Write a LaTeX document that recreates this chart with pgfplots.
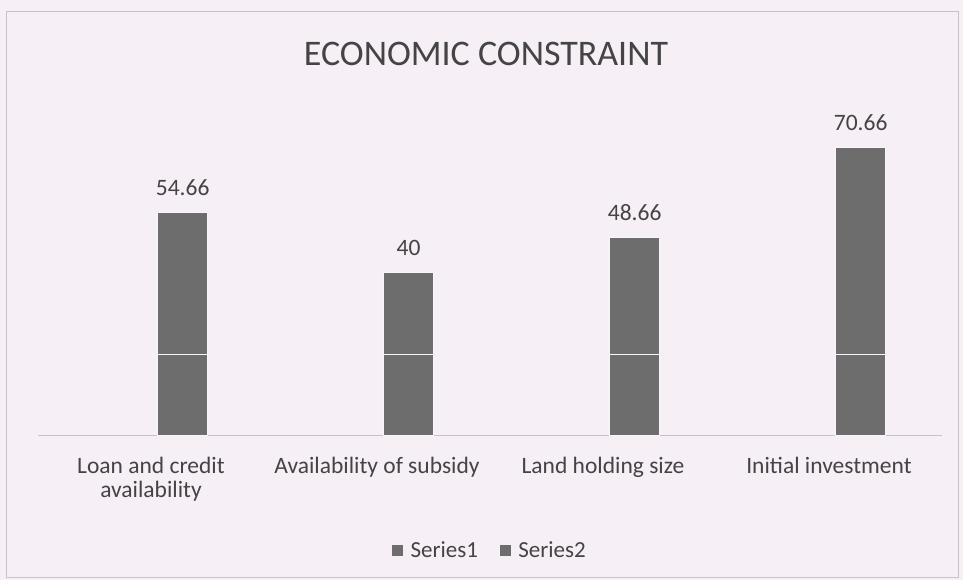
\documentclass[border=0pt]{standalone}
\usepackage{fontspec}
\setmainfont{Carlito}
\usepackage{pgfplots}
\pgfplotsset{compat=1.18}
\usepackage{pgfplotstable}
\definecolor{bg}{HTML}{F6EFF6}
\definecolor{bar}{HTML}{6E6D6E}
\definecolor{txt}{HTML}{444444}
\definecolor{frame}{HTML}{C8C2C8}
% x: bar position (bars sit a little right of the category tick)
\pgfplotstableread{
x s1 s2 total
0.14 20 34.66 54.66
1.14 20 20 40
2.14 20 28.66 48.66
3.14 20 50.66 70.66
}\datatab
\begin{document}
\begin{tikzpicture}[x=1pt,y=1pt]
\fill[bg] (0,0) rectangle (963,580);
\draw[frame,line width=1pt] (6,2) rectangle (958,568);
\node[txt,font=\fontsize{36}{40}\selectfont,anchor=base] at (486,514) {ECONOMIC CONSTRAINT};
\begin{axis}[
  at={(38pt,144pt)}, anchor=south west,
  scale only axis, width=904pt, height=306pt,
  xmin=-0.5, xmax=3.5, ymin=0, ymax=75,
  ybar, bar width=50pt, bar shift=0pt,
  axis y line=none, axis x line=bottom,
  x axis line style={-, draw=frame, line width=1pt},
  xtick={0,1,2,3}, major tick length=0pt,
  xticklabels={{Loan and credit\\availability},{Availability of subsidy},{Land holding size},{Initial investment}},
  xticklabel style={align=center, text=txt, font=\fontsize{23.5}{24}\selectfont, yshift=-18pt},
  legend style={at={(0.5,-0.33)}, anchor=north, draw=none, fill=none,
    legend columns=2, font=\fontsize{23}{26}\selectfont, text=txt,
    /tikz/every odd column/.append style={column sep=6pt},
    /tikz/every even column/.append style={column sep=20pt}},
  legend image code/.code={\fill[bar] (0pt,-5pt) rectangle (10pt,5pt);},
  clip=false,
]
\addlegendimage{fill=bar}
\addlegendentry{Series1}
\addlegendimage{fill=bar}
\addlegendentry{Series2}
% full bar up to the total (Series1 + Series2)
\addplot[forget plot, fill=bar, draw=bg!60!white, line width=1pt,
  nodes near coords, point meta=explicit symbolic,
  nodes near coords align=vertical,
  every node near coord/.append style={text=txt, font=\fontsize{23.5}{26}\selectfont, anchor=base, yshift=17pt}]
  table[x=x,y=total,meta=total] {\datatab};
% Series1 segment at the bottom
\addplot[forget plot, fill=bar, draw=bg!60!white, line width=1pt]
  table[x=x,y=s1] {\datatab};
\end{axis}
\end{tikzpicture}
\end{document}
